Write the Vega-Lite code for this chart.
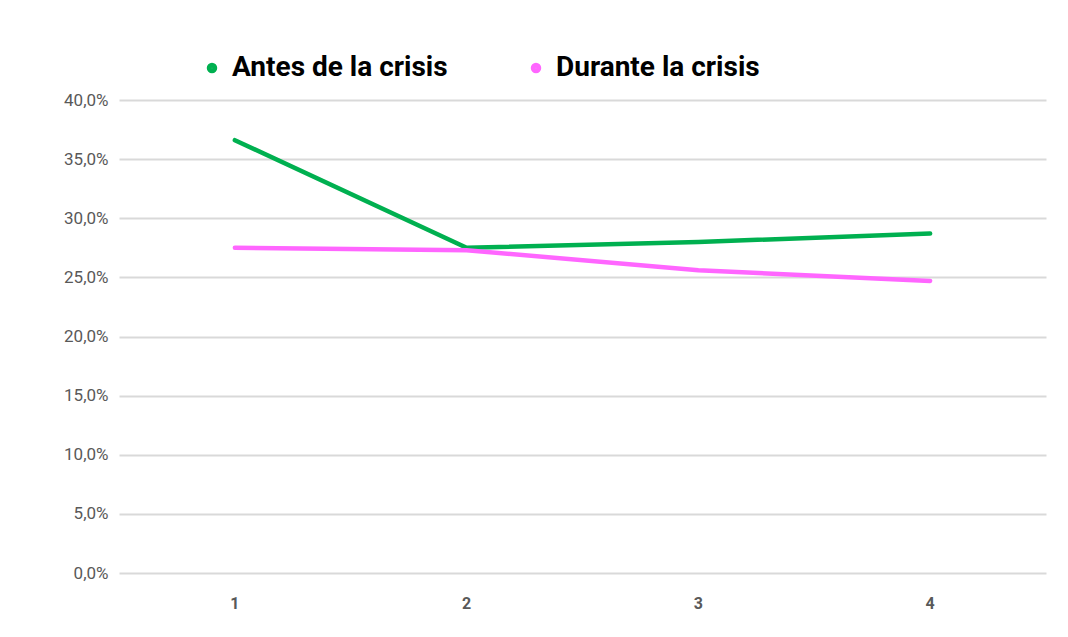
{
  "$schema": "https://vega.github.io/schema/vega-lite/v6.json",
  "width": 927,
  "height": 473,
  "autosize": {"type": "none"},
  "padding": {"left": 119, "top": 100, "right": 22, "bottom": 64},
  "background": "white",
  "config": {"view": {"stroke": null}},
  "data": {"values": [
    {"x": "1", "serie": "Antes de la crisis", "v": 0.366},
    {"x": "2", "serie": "Antes de la crisis", "v": 0.275},
    {"x": "3", "serie": "Antes de la crisis", "v": 0.280},
    {"x": "4", "serie": "Antes de la crisis", "v": 0.287},
    {"x": "1", "serie": "Durante la crisis", "v": 0.275},
    {"x": "2", "serie": "Durante la crisis", "v": 0.273},
    {"x": "3", "serie": "Durante la crisis", "v": 0.256},
    {"x": "4", "serie": "Durante la crisis", "v": 0.247}
  ]},
  "mark": {"type": "line", "strokeWidth": 4.5, "strokeCap": "round"},
  "encoding": {
    "x": {"field": "x", "type": "ordinal", "scale": {"type": "band", "paddingInner": 0, "paddingOuter": 0},
      "axis": {"title": null, "labelAngle": 0, "domain": false, "ticks": false, "labelPadding": 22, "labelFont": "Roboto", "labelFontWeight": "bold", "labelFontSize": 16, "labelColor": "#595959", "grid": false}},
    "y": {"field": "v", "type": "quantitative", "scale": {"domain": [0, 0.4]},
      "axis": {"title": null, "values": [0, 0.05, 0.1, 0.15, 0.2, 0.25, 0.3, 0.35, 0.4], "labelExpr": "replace(format(datum.value, '.1%'), '.', ',')", "domain": false, "ticks": false, "labelPadding": 11, "labelFont": "Roboto", "labelFontSize": 17, "labelColor": "#595959", "gridColor": "#d9d9d9", "gridWidth": 2}},
    "color": {"field": "serie", "type": "nominal", "scale": {"domain": ["Antes de la crisis", "Durante la crisis"], "range": ["#00b050", "#ff66ff"]},
      "legend": {"title": null, "orient": "none", "legendX": 79, "legendY": -46, "direction": "horizontal", "symbolType": "circle", "symbolSize": 30, "symbolStrokeWidth": 5, "labelFont": "Roboto", "labelFontWeight": "bold", "labelFontSize": 28, "labelColor": "#000000", "labelLimit": 400, "columnPadding": 74, "labelOffset": 6}}
  }
}
